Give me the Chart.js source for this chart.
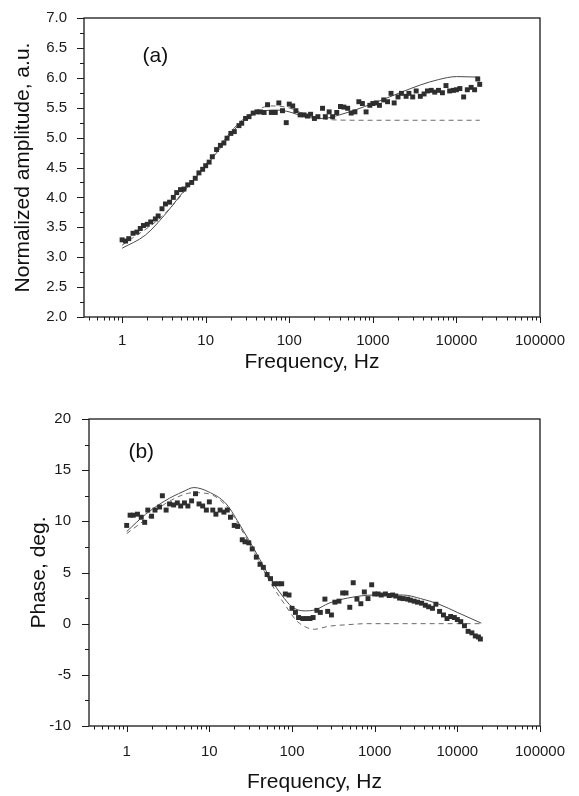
<!DOCTYPE html>
<html><head><meta charset="utf-8">
<script src="https://cdn.jsdelivr.net/npm/chart.js@4.4.0/dist/chart.umd.min.js"></script>
<style>
html,body{margin:0;padding:0;background:#fff;}
#wrap1{position:absolute;left:0;top:0;width:579px;height:400px;}
#wrap2{position:absolute;left:0;top:400px;width:579px;height:396px;}
canvas{display:block;}
</style></head><body>
<div id="wrap1"><canvas id="c1" width="579" height="400"></canvas></div>
<div id="wrap2"><canvas id="c2" width="579" height="396"></canvas></div>
<script>
// ---- measured data ----
const freq = [1, 1.1, 1.2, 1.35, 1.5, 1.65, 1.8, 2, 2.2, 2.5, 2.7, 3, 3.3, 3.7, 4.1, 4.5, 5, 5.5, 6.1, 6.8, 7.5, 8.3, 9.2,
  10, 11, 12, 13.5, 15, 16.5, 18, 20, 22, 25, 27, 30, 33, 37, 41, 45, 50, 55, 61, 68, 75, 83, 92,
  100, 110, 120, 135, 150, 165, 180, 200, 220, 250, 270, 300, 330, 370, 410, 450, 500, 550, 610, 680, 750, 830, 920,
  1000, 1100, 1200, 1350, 1500, 1650, 1800, 2000, 2200, 2500, 2700, 3000, 3300, 3700, 4100, 4500, 5000, 5500, 6100, 6800, 7500, 8300, 9200,
  10000, 11000, 12200, 13500, 15000, 16500, 18000, 19000];

const amplitude = [3.29, 3.27, 3.31, 3.40, 3.42, 3.48, 3.53, 3.55, 3.59, 3.64, 3.69, 3.81, 3.89, 3.92, 4.00, 4.08, 4.13, 4.14, 4.21, 4.25, 4.32, 4.41, 4.47,
  4.53, 4.59, 4.68, 4.80, 4.87, 4.91, 4.99, 5.07, 5.10, 5.20, 5.24, 5.32, 5.35, 5.41, 5.43, 5.43, 5.42, 5.55, 5.42, 5.42, 5.58, 5.45, 5.25,
  5.56, 5.53, 5.45, 5.38, 5.38, 5.36, 5.39, 5.32, 5.35, 5.49, 5.35, 5.43, 5.35, 5.42, 5.52, 5.51, 5.49, 5.41, 5.43, 5.60, 5.57, 5.43, 5.54,
  5.57, 5.58, 5.54, 5.63, 5.60, 5.74, 5.58, 5.68, 5.74, 5.69, 5.74, 5.68, 5.78, 5.69, 5.73, 5.78, 5.79, 5.76, 5.79, 5.75, 5.87, 5.78, 5.79,
  5.80, 5.82, 5.68, 5.80, 5.84, 5.80, 5.98, 5.89];

const phase = [9.6, 10.6, 10.6, 10.7, 10.4, 9.9, 11.1, 10.5, 11.1, 11.4, 12.5, 11.1, 11.7, 11.6, 11.8, 11.5, 11.8, 11.5, 12.0, 12.7, 11.7, 11.5, 11.1,
  11.9, 11.1, 10.7, 11.1, 10.9, 11.1, 10.4, 9.6, 9.5, 8.2, 8.0, 7.9, 7.3, 6.5, 5.8, 5.5, 4.8, 4.4, 3.9, 3.9, 3.9, 2.9, 2.8,
  1.5, 1.1, 0.6, 0.5, 0.5, 0.5, 0.6, 1.3, 1.1, 2.4, 1.2, 0.85, 2.1, 2.2, 3.0, 3.0, 1.6, 4.0, 2.4, 1.95, 3.1, 2.45, 3.8,
  2.9, 2.9, 2.8, 2.9, 2.75, 2.8, 2.7, 2.5, 2.45, 2.4, 2.3, 2.2, 2.1, 2.0, 1.8, 1.65, 1.5, 1.9, 1.2, 0.85, 0.5, 0.7, 0.6,
  0.4, 0.2, -0.2, -0.75, -0.9, -1.2, -1.3, -1.5];

// model curves
const ampFitFreq  = [1, 1.9, 3.2, 5.3, 10, 14.5, 24, 40, 72, 100, 150, 250, 400, 1000, 2200, 3700, 6100, 10000, 19000];
const ampFitSolid = [3.15, 3.37, 3.70, 4.08, 4.52, 4.80, 5.19, 5.41, 5.46, 5.43, 5.35, 5.32, 5.38, 5.57, 5.76, 5.88, 5.97, 6.02, 6.01];
const ampDashFreq   = [1, 3.2, 10, 24, 40, 59, 98, 160, 300, 800, 3000, 19000];
const ampFitDashed  = [3.20, 3.72, 4.55, 5.22, 5.45, 5.53, 5.50, 5.38, 5.30, 5.29, 5.29, 5.29];

const phaseFitFreq  = [1, 1.7, 2.9, 4.8, 6.5, 9.7, 16, 24, 37, 55, 75, 100, 140, 190, 280, 470, 1000, 2200, 3600, 6000, 10000, 19500];
const phaseFitSolid = [9.0, 10.7, 12.0, 12.9, 13.3, 12.9, 11.7, 9.5, 6.9, 4.4, 2.8, 1.65, 1.25, 1.35, 2.0, 2.5, 2.8, 2.8, 2.45, 1.9, 1.1, 0.05];
const phaseDashFreq   = [1, 1.7, 2.9, 6.5, 9.7, 16, 24, 37, 55, 83, 113, 153, 184, 280, 470, 800, 19500];
const phaseFitDashed  = [8.8, 10.2, 11.7, 12.8, 12.7, 11.5, 9.3, 6.6, 4.0, 1.8, 0.3, -0.4, -0.55, -0.25, -0.1, 0.0, 0.0];

// ticks
const xMajorTicks = [1, 10, 100, 1000, 10000, 100000];
const xTickLabels = ['1', '10', '100', '1000', '10000', '100000'];
const xMinorMultipliers = [2, 3, 4, 5, 6, 7, 8, 9];
const ampMajorTicks = [2.0, 2.5, 3.0, 3.5, 4.0, 4.5, 5.0, 5.5, 6.0, 6.5, 7.0];
const ampTickLabels = ['2.0', '2.5', '3.0', '3.5', '4.0', '4.5', '5.0', '5.5', '6.0', '6.5', '7.0'];
const phaseMajorTicks = [-10, -5, 0, 5, 10, 15, 20];
const phaseTickLabels = ['-10', '-5', '0', '5', '10', '15', '20'];

// ---- build helpers ----
const xTickValues = [];
[0.1].forEach(d => xMinorMultipliers.forEach(m => { if (m >= 4) xTickValues.push(+(d * m).toFixed(1)); }));
xMajorTicks.forEach((d, i) => {
  xTickValues.push(d);
  if (i < xMajorTicks.length - 1) xMinorMultipliers.forEach(m => xTickValues.push(d * m));
});
function withMinors(majors) {
  const out = [];
  majors.forEach((v, i) => { out.push(v); if (i < majors.length - 1) out.push((v + majors[i + 1]) / 2); });
  return out;
}
const pairs = (xs, ys) => xs.map((x, i) => ({x: x, y: ys[i]}));

Chart.defaults.font.family = '"Liberation Sans", Arial, Helvetica, sans-serif';
Chart.defaults.color = '#1a1a1a';

const framePlugin = {
  id: 'frame',
  afterDraw(chart, args, opts) {
    const {ctx, chartArea: a, scales} = chart;
    const xs = scales.x, ys = scales.y;
    ctx.save();
    ctx.strokeStyle = '#1a1a1a';
    ctx.lineWidth = 1.3;
    ctx.strokeRect(a.left, a.top, a.right - a.left, a.bottom - a.top);
    ctx.lineWidth = 1;
    ctx.beginPath();
    xs.ticks.forEach(t => {
      const px = Math.round(xs.getPixelForValue(t.value)) + 0.5;
      const len = xMajorTicks.includes(t.value) ? 6 : 3.5;
      ctx.moveTo(px, a.bottom); ctx.lineTo(px, a.bottom + len);
    });
    ys.ticks.forEach(t => {
      const py = Math.round(ys.getPixelForValue(t.value)) + 0.5;
      const len = opts.yMajor.includes(t.value) ? 7 : 4;
      ctx.moveTo(a.left, py); ctx.lineTo(a.left - len, py);
    });
    ctx.stroke();
    ctx.fillStyle = '#111';
    ctx.font = '21px "Liberation Sans", Arial, sans-serif';
    ctx.textAlign = 'center';
    ctx.textBaseline = 'middle';
    ctx.fillText(opts.label, xs.getPixelForValue(opts.labelX), ys.getPixelForValue(opts.labelY));
    ctx.restore();
  }
};

function makeChart(id, o) {
  return new Chart(document.getElementById(id), {
    type: 'scatter',
    data: {
      datasets: [
        { data: pairs(freq, o.values), pointStyle: 'rect', pointRadius: 3.5, pointBackgroundColor: '#2e2e2e', pointBorderWidth: 0, showLine: false },
        { data: pairs(o.solidF, o.solid), showLine: true, pointRadius: 0, borderColor: '#4a4a4a', borderWidth: 1, cubicInterpolationMode: 'monotone' },
        { data: pairs(o.dashF, o.dashed), showLine: true, pointRadius: 0, borderColor: '#6a6a6a', borderWidth: 1, borderDash: [5, 4], cubicInterpolationMode: 'monotone' }
      ]
    },
    options: {
      responsive: false,
      animation: false,
      events: [],
      layout: { padding: { top: o.padTop, right: 39, left: 0, bottom: 0 } },
      plugins: {
        legend: { display: false },
        tooltip: { enabled: false },
        frame: { yMajor: o.yMajor, label: o.label, labelX: o.labelX, labelY: o.labelY }
      },
      scales: {
        x: {
          type: 'logarithmic', min: 0.35, max: 100000,
          afterBuildTicks: s => { s.ticks = xTickValues.map(v => ({ value: v })); },
          afterFit: s => { s.height = o.xHeight; },
          grid: { display: false }, border: { display: false },
          ticks: {
            autoSkip: false, maxRotation: 0, minRotation: 0, padding: o.xPad,
            font: { size: 15 }, color: '#1a1a1a',
            callback: v => { const i = xMajorTicks.indexOf(v); return i >= 0 ? xTickLabels[i] : ''; }
          },
          title: { display: true, text: 'Frequency, Hz', font: { size: 21 }, color: '#111', padding: { top: 0, bottom: o.xTitlePad } }
        },
        y: {
          type: 'linear', min: o.yMin, max: o.yMax,
          afterBuildTicks: s => { s.ticks = withMinors(o.yMajor).map(v => ({ value: v })); },
          afterFit: s => { s.width = o.yWidth; },
          grid: { display: false }, border: { display: false },
          ticks: {
            autoSkip: false, padding: o.yPad, font: { size: 15 }, color: '#1a1a1a',
            callback: v => { const i = o.yMajor.indexOf(v); return i >= 0 ? o.yLabels[i] : ''; }
          },
          title: { display: true, text: o.yTitle, font: { size: 21 }, color: '#111', padding: { top: o.yTitlePad, bottom: 0 } }
        }
      }
    },
    plugins: [framePlugin]
  });
}

makeChart('c1', {
  values: amplitude, solidF: ampFitFreq, solid: ampFitSolid, dashF: ampDashFreq, dashed: ampFitDashed,
  yMin: 2, yMax: 7, yMajor: ampMajorTicks, yLabels: ampTickLabels, yTitle: 'Normalized amplitude, a.u.',
  padTop: 13, xHeight: 83, yWidth: 84, xPad: 7, yPad: 9, xTitlePad: 25, yTitlePad: 11,
  label: '(a)', labelX: 2.5, labelY: 6.36
});
makeChart('c2', {
  values: phase, solidF: phaseFitFreq, solid: phaseFitSolid, dashF: phaseDashFreq, dashed: phaseFitDashed,
  yMin: -10, yMax: 20, yMajor: phaseMajorTicks, yLabels: phaseTickLabels, yTitle: 'Phase, deg.',
  padTop: 13, xHeight: 70, yWidth: 89, xPad: 9, yPad: 10, xTitlePad: 1, yTitlePad: 27,
  label: '(b)', labelX: 1.5, labelY: 16.8
});
</script>
</body></html>
